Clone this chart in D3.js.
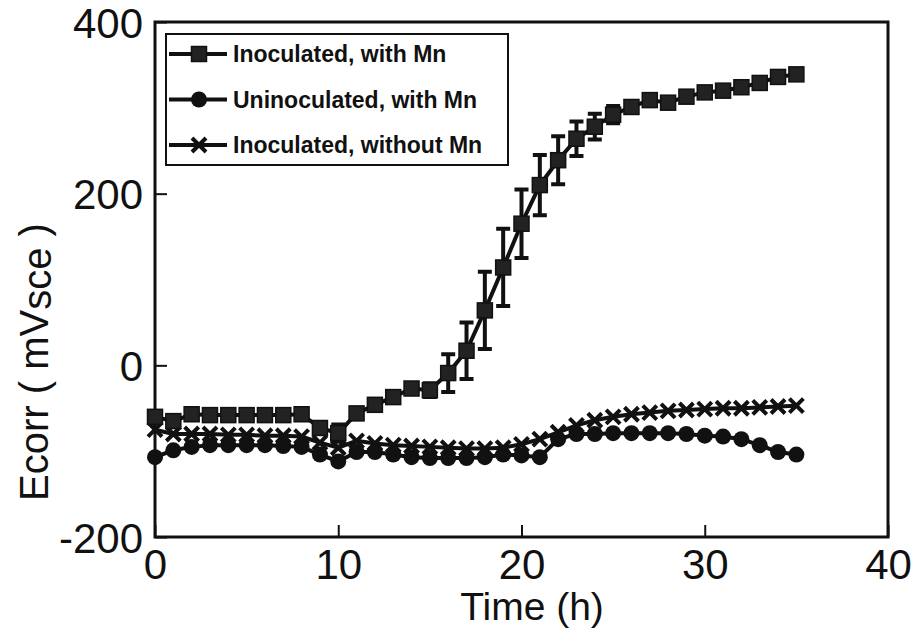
<!DOCTYPE html>
<html><head><meta charset="utf-8">
<script src="https://cdn.jsdelivr.net/npm/d3@7"></script>
<style>body{margin:0;background:#fff}svg{display:block}</style>
</head><body>
<svg id="c" width="912" height="631"></svg>
<script>
const time = d3.range(0, 36);
const inocMn = [-60,-65,-57,-58,-58,-58,-58,-58,-57,-73,-79,-56,-46,-37,-27,-29,-9,17,64,114,165,210,239,264,278,292,301,309,306,313,318,320,324,329,336,339];
const inocMnErr = [0,0,0,0,0,0,0,0,0,5,10,0,0,0,0,8,22,33,45,45,40,35,28,20,15,10,6,0,0,0,0,0,0,0,0,0];
const uninocMn = [-107,-99,-95,-93,-93,-93,-93,-94,-95,-104,-112,-101,-101,-104,-107,-108,-108,-108,-107,-104,-105,-107,-86,-80,-80,-79,-79,-79,-79,-80,-82,-83,-86,-93,-101,-104];
const inocNoMn = [-75,-80,-80,-80,-81,-81,-82,-82,-83,-90,-96,-88,-91,-93,-94,-95,-96,-97,-97,-96,-92,-86,-78,-70,-64,-60,-57,-55,-53,-52,-51,-50,-50,-49,-48,-47];
const xTicks = [0,10,20,30,40];
const yTicks = [-200,0,200,400];
const seriesNames = ["Inoculated, with Mn","Uninoculated, with Mn","Inoculated, without Mn"];
const xTitle = "Time (h)";

const svg = d3.select("#c");
const L=155,R=888,T=22,B=537;
const x = d3.scaleLinear().domain([0,40]).range([L,R]);
const y = d3.scaleLinear().domain([-200,400]).range([B,T]);
const ink = "#111";
const font = "'Liberation Sans', Arial, sans-serif";

// frame
svg.append("rect").attr("x",L).attr("y",T).attr("width",R-L).attr("height",B-T)
  .attr("fill","none").attr("stroke",ink).attr("stroke-width",3);

const fmt = d => String(d);
const xa = svg.append("g").attr("transform",`translate(0,${B})`)
  .call(d3.axisBottom(x).tickValues(xTicks).tickSizeInner(-12).tickSizeOuter(0).tickPadding(12).tickFormat(fmt));
const ya = svg.append("g").attr("transform",`translate(${L},0)`)
  .call(d3.axisLeft(y).tickValues(yTicks).tickSizeInner(-12).tickSizeOuter(0).tickPadding(12).tickFormat(fmt));
[xa,ya].forEach(a=>{
  a.select(".domain").remove();
  a.selectAll(".tick line").attr("stroke",ink).attr("stroke-width",2);
  a.selectAll("text").attr("fill",ink).style("font-family",font).style("font-size","42px");
});
ya.selectAll("text").attr("dy","0.36em");

svg.append("text").attr("x",532).attr("y",620).attr("text-anchor","middle")
  .style("font-family",font).style("font-size","39px").attr("fill",ink).text(xTitle);
const yt = svg.append("text").attr("transform","translate(48,362) rotate(-90)").attr("text-anchor","middle")
  .style("font-family",font).style("font-size","40px").attr("fill",ink);
yt.append("tspan").text("Ecorr ( mV");
yt.append("tspan").attr("dy",3).text("sce");
yt.append("tspan").attr("dy",-3).text(" )");

const line = d3.line().x((d,i)=>x(time[i])).y(d=>y(d));

function drawSeries(vals, marker){
  svg.append("path").datum(vals).attr("d",line).attr("fill","none").attr("stroke",ink).attr("stroke-width",4);
  const g = svg.append("g");
  vals.forEach((v,i)=>marker(g, x(time[i]), y(v)));
}
function square(g,cx,cy,s=15){ g.append("rect").attr("x",cx-s/2).attr("y",cy-s/2).attr("width",s).attr("height",s).attr("fill","#222").attr("stroke",ink).attr("stroke-width",1.5); }
function circle(g,cx,cy,r=8){ g.append("circle").attr("cx",cx).attr("cy",cy).attr("r",r).attr("fill",ink); }
function cross(g,cx,cy,s=7){ g.append("path").attr("d",`M${cx-s},${cy-s}L${cx+s},${cy+s}M${cx-s},${cy+s}L${cx+s},${cy-s}`).attr("stroke",ink).attr("stroke-width",4).attr("fill","none"); }

drawSeries(inocNoMn, cross);
drawSeries(uninocMn, circle);
// error bars
const eg = svg.append("g");
inocMn.forEach((v,i)=>{
  const e = inocMnErr[i]; if(!e) return;
  const cx = x(time[i]);
  eg.append("path").attr("d",`M${cx},${y(v-e)}V${y(v+e)}M${cx-7},${y(v-e)}H${cx+7}M${cx-7},${y(v+e)}H${cx+7}`)
    .attr("stroke",ink).attr("stroke-width",4).attr("fill","none");
});
drawSeries(inocMn, square);

// legend
const lg = svg.append("g");
lg.append("rect").attr("x",166).attr("y",34).attr("width",342).attr("height",131).attr("fill","#fff").attr("stroke",ink).attr("stroke-width",2);
const markers=[square,circle,cross];
seriesNames.forEach((n,i)=>{
  const cy = 54 + i*45.5;
  lg.append("line").attr("x1",169).attr("x2",227).attr("y1",cy).attr("y2",cy).attr("stroke",ink).attr("stroke-width",4);
  markers[i](lg,199,cy);
  lg.append("text").attr("x",233).attr("y",cy).attr("dy","0.36em").style("font-family",font).style("font-size","23px").style("font-weight","bold").attr("fill",ink).text(n);
});
</script>
</body></html>
